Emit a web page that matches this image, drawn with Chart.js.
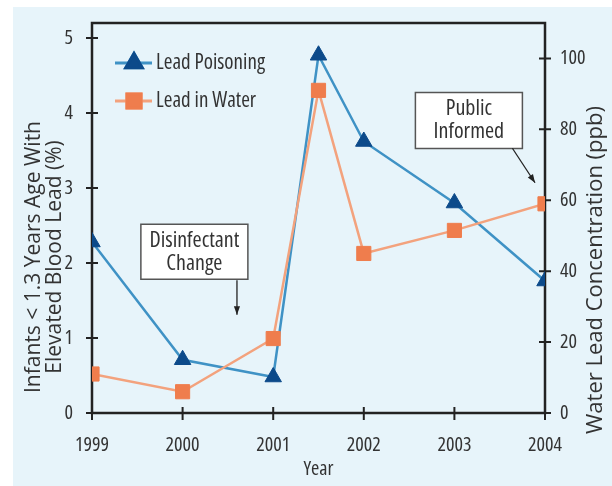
<!DOCTYPE html>
<html>
<head>
<meta charset="utf-8">
<script src="https://cdn.jsdelivr.net/npm/chart.js@4"></script>
<style>
  html, body { margin: 0; padding: 0; background: #fff; }
</style>
</head>
<body>
<canvas id="leadChart" width="612" height="486"></canvas>
<script>
// values
const years = [1999, 2000, 2001, 2001.5, 2002, 2003, 2004];
const leadPoisoning = [2.28, 0.71, 0.48, 4.77, 3.62, 2.8, 1.76]; // % (left axis)
const leadInWater = [11, 6, 21, 91, 45, 51.5, 59]; // ppb (right axis)
const yearTicks = [1999, 2000, 2001, 2002, 2003, 2004];
const pctTicks = [0, 1, 2, 3, 4, 5];
const ppbTicks = [0, 20, 40, 60, 80, 100];

const family = '"Open Sans", "DejaVu Sans Condensed", sans-serif';
const textColor = '#333';

const toPoints = (vals) => vals.map((v, i) => ({ x: years[i], y: v }));

// light blue panel behind everything
const panel = {
  id: 'panel',
  beforeDraw(chart) {
    const c = chart.ctx;
    c.save();
    c.fillStyle = '#e7f4fa';
    c.fillRect(13, 7, chart.width - 13, chart.height - 7);
    c.restore();
  }
};

// frame + ticks that cross the axes
const frame = {
  id: 'frame',
  beforeDatasetsDraw(chart) {
    const c = chart.ctx, a = chart.chartArea;
    const s = chart.scales;
    c.save();
    c.strokeStyle = '#222';
    c.lineWidth = 2.5;
    c.strokeRect(a.left, a.top, a.right - a.left, a.bottom - a.top);
    c.lineWidth = 2;
    c.beginPath();
    pctTicks.forEach(v => {
      const y = s.y.getPixelForValue(v);
      c.moveTo(a.left - 6, y); c.lineTo(a.left + 6, y);
    });
    ppbTicks.forEach(v => {
      const y = s.y2.getPixelForValue(v);
      c.moveTo(a.right - 6, y); c.lineTo(a.right + 6, y);
    });
    yearTicks.forEach(v => {
      const x = s.x.getPixelForValue(v);
      c.moveTo(x, a.bottom - 6); c.lineTo(x, a.bottom + 7);
    });
    c.stroke();
    c.restore();
  }
};

// annotations, legend and y titles
const extras = {
  id: 'extras',
  afterDraw(chart) {
    const c = chart.ctx, a = chart.chartArea;
    const x = chart.scales.x, y = chart.scales.y;
    c.save();

    // axis titles
    c.fillStyle = textColor;
    c.font = '21px ' + family;
    c.textAlign = 'center';
    c.textBaseline = 'middle';
    c.save();
    c.translate(34, 257);
    c.rotate(-Math.PI / 2);
    c.fillText('Infants < 1.3 Years Age With', 0, 0);
    c.fillText('Elevated Blood Lead (%)', 0, 21);
    c.restore();
    c.save();
    c.font = '22px ' + family;
    c.translate(596, 270);
    c.rotate(-Math.PI / 2);
    c.fillText('Water Lead Concentration (ppb)', 0, 0);
    c.restore();

    // legend
    const ds = chart.data.datasets;
    [ds[1], ds[0]].forEach((d, i) => {
      const ly = a.top + 40 + i * 38;
      c.strokeStyle = d.borderColor;
      c.lineWidth = 3;
      c.beginPath();
      c.moveTo(a.left + 23, ly); c.lineTo(a.left + 60, ly);
      c.stroke();
      Chart.helpers.drawPoint(c, {
        pointStyle: d.pointStyle, radius: d.pointRadius, borderWidth: 1
      }, a.left + 42, ly);
      c.fillStyle = d.pointBackgroundColor;
      c.strokeStyle = d.pointBorderColor;
      c.fill(); c.stroke();
      c.fillStyle = textColor;
      c.font = 'condensed 21px ' + family;
      c.textAlign = 'left';
      c.fillText(d.label, a.left + 64, ly);
    });

    // boxes with arrows
    const box = (lines, cx, cy, w, h) => {
      const px = x.getPixelForValue(cx), py = y.getPixelForValue(cy);
      c.fillStyle = '#fff';
      c.strokeStyle = '#555';
      c.lineWidth = 1.5;
      c.fillRect(px - w / 2, py - h / 2, w, h);
      c.strokeRect(px - w / 2, py - h / 2, w, h);
      c.fillStyle = textColor;
      c.font = 'condensed 22px ' + family;
      c.textAlign = 'center';
      c.textBaseline = 'middle';
      lines.forEach((t, i) => c.fillText(t, px, py + (i - (lines.length - 1) / 2) * 23));
    };
    const arrow = (x0, y0, x1, y1) => {
      const ax = x.getPixelForValue(x0), ay = y.getPixelForValue(y0);
      const bx = x.getPixelForValue(x1), by = y.getPixelForValue(y1);
      const ang = Math.atan2(by - ay, bx - ax);
      c.strokeStyle = '#222';
      c.fillStyle = '#222';
      c.lineWidth = 1.3;
      c.beginPath(); c.moveTo(ax, ay); c.lineTo(bx, by); c.stroke();
      c.beginPath();
      c.moveTo(bx, by);
      c.lineTo(bx - 9 * Math.cos(ang - 0.35), by - 9 * Math.sin(ang - 0.35));
      c.lineTo(bx - 9 * Math.cos(ang + 0.35), by - 9 * Math.sin(ang + 0.35));
      c.closePath(); c.fill();
    };
    box(['Disinfectant', 'Change'], 2000.13, 2.15, 107, 55);
    arrow(2000.6, 1.77, 2000.6, 1.31);
    box(['Public', 'Informed'], 2003.16, 3.9, 107, 56);
    arrow(2003.64, 3.53, 2003.89, 3.07);

    c.restore();
  }
};

const tickFont = { family: family, size: 20, weight: 'condensed' };

new Chart(document.getElementById('leadChart'), {
  type: 'line',
  data: {
    datasets: [{
      label: 'Lead in Water',
      data: toPoints(leadInWater),
      yAxisID: 'y2',
      borderColor: '#f3a27d',
      borderWidth: 2.5,
      pointStyle: 'rect',
      pointRadius: 10,
      pointBackgroundColor: '#ef7d4d',
      pointBorderColor: '#ef7d4d',
      pointBorderWidth: 1,
      tension: 0
    }, {
      label: 'Lead Poisoning',
      data: toPoints(leadPoisoning),
      yAxisID: 'y',
      borderColor: '#3f92c5',
      borderWidth: 2.5,
      pointStyle: 'triangle',
      pointRadius: 9.5,
      pointBackgroundColor: '#0c4a8a',
      pointBorderColor: '#0c4a8a',
      pointBorderWidth: 1,
      tension: 0
    }]
  },
  options: {
    responsive: false,
    animation: false,
    layout: { padding: { top: 22, left: 0, right: 0, bottom: 0 } },
    plugins: { legend: { display: false }, tooltip: { enabled: false } },
    scales: {
      x: {
        type: 'linear', min: 1999, max: 2004,
        afterBuildTicks: (s) => { s.ticks = yearTicks.map(v => ({ value: v })); },
        afterFit: (s) => { s.height = 73; },
        grid: { display: false }, border: { display: false },
        ticks: { color: textColor, font: tickFont, padding: 12, callback: (v) => String(v) },
        title: { display: true, text: 'Year', color: textColor, font: tickFont, padding: { top: 0, bottom: 5 } }
      },
      y: {
        position: 'left', min: 0, max: 5.2,
        afterBuildTicks: (s) => { s.ticks = pctTicks.map(v => ({ value: v })); },
        afterFit: (s) => { s.width = 92; },
        grid: { display: false }, border: { display: false },
        ticks: { color: textColor, font: tickFont, padding: 11 }
      },
      y2: {
        position: 'right', min: 0, max: 110,
        afterBuildTicks: (s) => { s.ticks = ppbTicks.map(v => ({ value: v })); },
        afterFit: (s) => { s.width = 67; },
        grid: { display: false }, border: { display: false },
        ticks: { color: textColor, font: tickFont, padding: 7 }
      }
    }
  },
  plugins: [panel, frame, extras]
});
</script>
</body>
</html>
